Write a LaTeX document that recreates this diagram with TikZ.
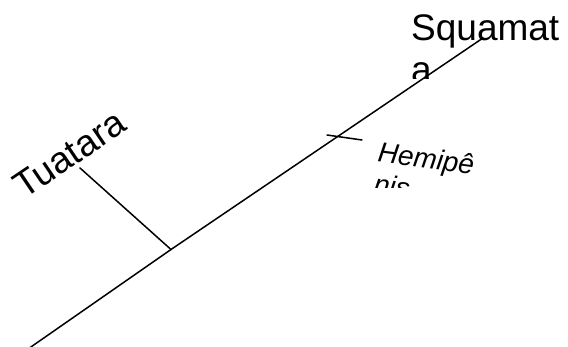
\documentclass[tikz,border=0pt]{standalone}
\usepackage{fontspec}
\setmainfont{Liberation Sans}
\begin{document}
\begin{tikzpicture}[x=1pt,y=-1pt,
  branch/.style={line width=1.5pt,line cap=round},
  biglabel/.style={inner sep=0pt,anchor=base west,align=left,font=\fontsize{37}{42}\selectfont},
  smalllabel/.style={inner sep=0pt,anchor=base west,align=left,font=\fontsize{28}{32}\selectfont\itshape}]
\useasboundingbox (0,0) rectangle (568,347);
% tree points
\coordinate (root) at (28,349);
\coordinate (j1) at (171,249.5);
\coordinate (sq) at (483,38);
\coordinate (tu) at (80,168);
\coordinate (t1) at (327,135);
\coordinate (t2) at (362,140);
% connectors
\draw[branch] (root) -- (j1);
\draw[branch] (j1) -- (sq);
\draw[branch] (j1) -- (tu);
\draw[branch] (t1) -- (t2);
% labels (anchor = baseline of the last line)
\begin{scope}
  \clip (400,0) rectangle (568,79);
  \node[biglabel] (squamata) at (411,83) {Squamat\\a};
\end{scope}
\node[biglabel,rotate=34] (tuatara) at (24,200) {Tuatara};
\begin{scope}
  \clip (360,100) rectangle (568,188);
  \node[smalllabel,rotate=-7.5] (hemipenis) at (372.8,193.7) {Hemipê\\nis};
\end{scope}
\end{tikzpicture}
\end{document}
